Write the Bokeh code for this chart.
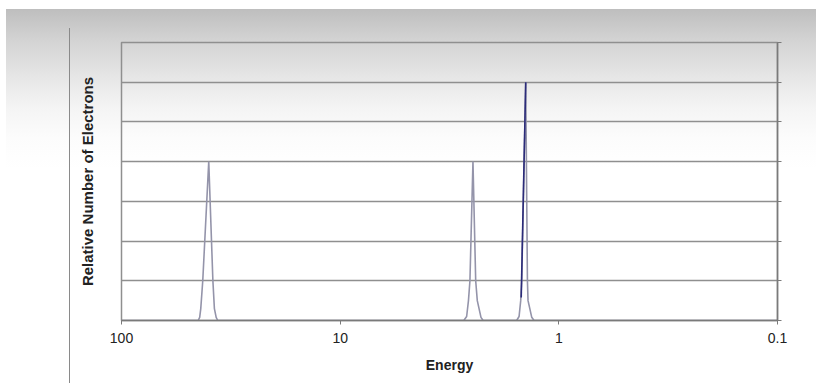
from bokeh.plotting import figure
from bokeh.models import Range1d, LinearAxis, FixedTicker, ColumnDataSource
from bokeh.embed import file_html
from bokeh.resources import INLINE

# ---- data ----
energy = [100, 44.6, 43.9, 43.4, 42.5, 39.9, 38.2, 37.6, 36.9, 36.3,
          2.72, 2.64, 2.59, 2.55, 2.47, 2.40, 2.36, 2.27, 2.22,
          1.56, 1.52, 1.494, 1.478, 1.417, 1.392, 1.383, 1.33, 1.298, 0.1]
electrons = [0, 0, 0.08, 0.3, 1, 4, 1, 0.3, 0.08, 0,
             0, 0.1, 0.5, 1, 4, 1, 0.5, 0.08, 0,
             0, 0.1, 0.5, 1, 6, 1, 0.5, 0.08, 0, 0]
# darker overlay stroke on left flank of the tallest peak
overlay_energy = [1.486, 1.417]
overlay_electrons = [0.58, 6]

x_ticks = [100, 10, 1, 0.1]
x_tick_labels = ["100", "10", "1", "0.1"]
y_ticks = [0, 1, 2, 3, 4, 5, 6, 7]

FONT = "Liberation Sans"
GRID = "#8f8f8f"
AXIS = "#7a7a7a"

p = figure(width=816, height=383, output_backend="svg", toolbar_location=None,
           x_axis_type="log", y_axis_location="right",
           x_range=Range1d(100, 0.1), y_range=Range1d(0, 7),
           min_border_left=121, min_border_right=39, min_border_top=42,
           min_border_bottom=63)

p.border_fill_color = None
p.background_fill_color = None
p.styles = {
    "background": "linear-gradient(#ffffff, #ffffff) 0 0 / 100% 9px no-repeat, "
                  "linear-gradient(#ffffff, #ffffff) 0 0 / 6px 100% no-repeat, "
                  "linear-gradient(#8a8a8a, #8a8a8a) 69px 28px / 1px calc(100% - 28px) no-repeat, "
                  "linear-gradient(to bottom, #bdbdbd 2%, #d2d2d2 10%, #e6e6e6 20%, #f4f4f4 28%, #fcfcfc 36%, #ffffff 44%)"
}
p.outline_line_color = GRID
p.outline_line_width = 1.5

# x axis
xa = p.xaxis[0]
xa.ticker = FixedTicker(ticks=x_ticks)
xa.major_label_overrides = {t: l for t, l in zip(x_ticks, x_tick_labels)}
xa.minor_tick_line_color = None
xa.major_tick_in = 0
xa.major_tick_out = 4
xa.axis_line_color = AXIS
xa.axis_line_width = 1.5
xa.major_tick_line_color = AXIS
xa.major_label_text_font = FONT
xa.major_label_text_font_size = "14px"
xa.major_label_text_color = "#222222"
xa.major_label_standoff = 8
xa.axis_label = "Energy"
xa.axis_label_text_font = FONT
xa.axis_label_text_font_style = "bold"
xa.axis_label_text_font_size = "14px"
xa.axis_label_text_color = "#222222"
xa.axis_label_standoff = 11

# right axis (ticks only, no labels)
ra = p.yaxis[0]
ra.ticker = FixedTicker(ticks=y_ticks)
ra.major_label_text_color = None
ra.major_label_standoff = 0
ra.minor_tick_line_color = None
ra.major_tick_in = 0
ra.major_tick_out = 4
ra.axis_line_color = AXIS
ra.axis_line_width = 1.5
ra.major_tick_line_color = AXIS

# left axis (title only)
la = LinearAxis(ticker=FixedTicker(ticks=[]), axis_line_color=None,
                major_tick_line_color=None, minor_tick_line_color=None,
                major_tick_out=0, major_label_standoff=0,
                axis_label="Relative Number of Electrons",
                axis_label_text_font=FONT, axis_label_text_font_style="bold",
                axis_label_text_font_size="15px", axis_label_text_color="#222222",
                axis_label_standoff=26)
p.add_layout(la, "left")

p.xgrid.grid_line_color = None
p.ygrid.ticker = FixedTicker(ticks=y_ticks)
p.ygrid.grid_line_color = GRID
p.ygrid.grid_line_width = 1.5

src = ColumnDataSource(dict(x=energy, y=electrons))
p.line("x", "y", source=src, line_color="#9494aa", line_width=1.6)
p.line(overlay_energy, overlay_electrons, line_color="#2b2b7a", line_width=1.6)

open("out.html", "w").write(file_html(p, INLINE))
